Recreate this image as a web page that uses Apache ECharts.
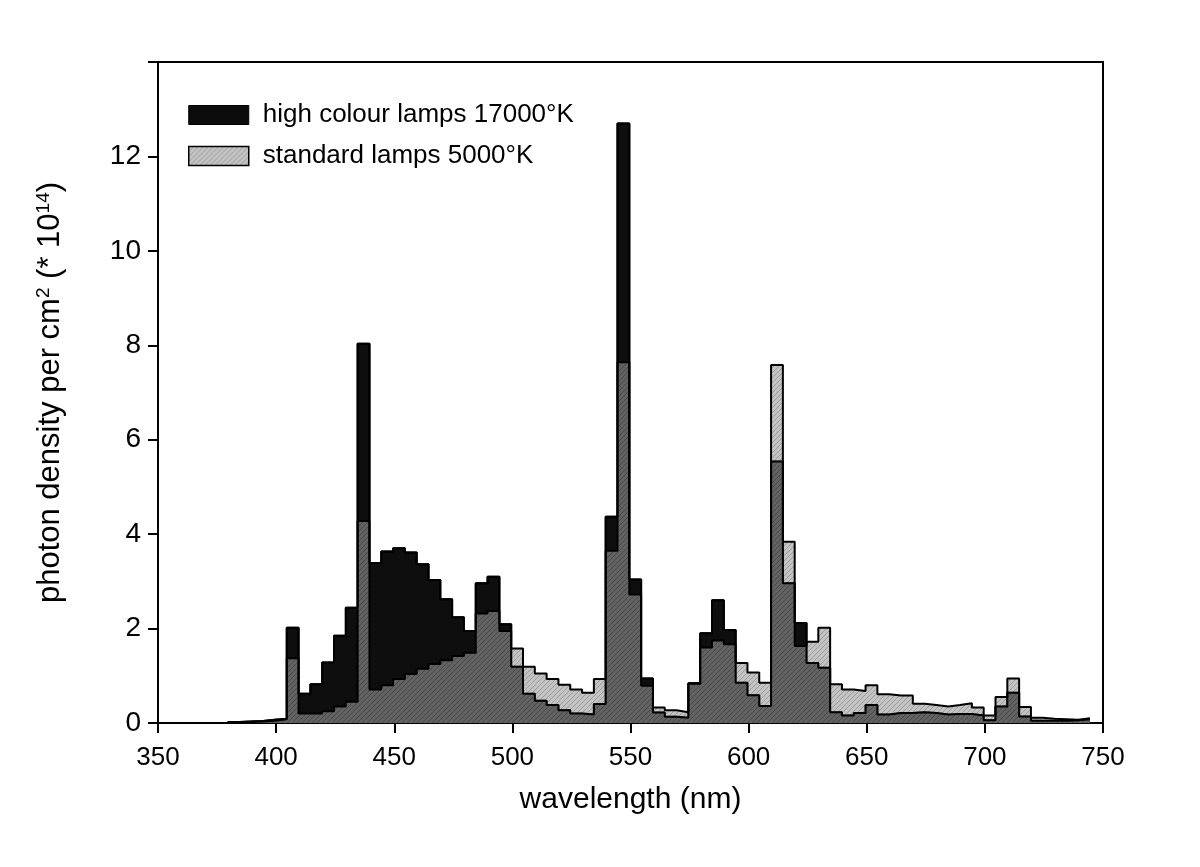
<!DOCTYPE html>
<html>
<head>
<meta charset="UTF-8">
<title>photon density</title>
<script src="https://cdn.jsdelivr.net/npm/echarts@6/dist/echarts.min.js"></script>
<style>
html, body { margin: 0; padding: 0; background: #fff; }
#main { width: 1200px; height: 867px; }
</style>
</head>
<body>
<div id="main"></div>
<script>
// bin centres (nm), bins are 5 nm wide
var wavelength = [382, 387, 392, 397, 402, 407, 412, 417, 422, 427, 432, 437, 442, 447, 452, 457, 462, 467, 472, 477,
  482, 487, 492, 497, 502, 507, 512, 517, 522, 527, 532, 537, 542, 547, 552, 557, 562, 567, 572, 577,
  582, 587, 592, 597, 602, 607, 612, 617, 622, 627, 632, 637, 642, 647, 652, 657, 662, 667, 672, 677,
  682, 687, 692, 697, 702, 707, 712, 717, 722, 727, 732, 737, 742];
var binWidth = 5;
// high colour lamps 17000°K
var highColour = [0.02, 0.03, 0.04, 0.07, 0.09, 2.02, 0.62, 0.82, 1.28, 1.85, 2.44, 8.03, 3.39, 3.63, 3.70, 3.61, 3.36, 3.03, 2.62, 2.24,
  1.95, 2.96, 3.10, 2.09, 1.19, 0.62, 0.47, 0.38, 0.27, 0.20, 0.18, 0.40, 4.37, 12.70, 3.04, 0.94, 0.22, 0.13, 0.11, 0.84,
  1.90, 2.60, 1.97, 0.85, 0.59, 0.36, 5.54, 2.96, 2.12, 1.27, 1.17, 0.23, 0.16, 0.21, 0.38, 0.18, 0.21, 0.21, 0.23, 0.21,
  0.18, 0.19, 0.19, 0.16, 0.06, 0.35, 0.64, 0.14, 0.05, 0.05, 0.05, 0.06, 0.08];
// standard lamps 5000°K
var standard = [0.01, 0.02, 0.03, 0.05, 0.08, 1.37, 0.20, 0.20, 0.25, 0.35, 0.45, 4.28, 0.71, 0.80, 0.93, 1.04, 1.15, 1.25, 1.33, 1.42,
  1.49, 2.32, 2.37, 1.95, 1.58, 1.19, 1.05, 0.93, 0.81, 0.71, 0.64, 0.93, 3.65, 7.64, 2.72, 0.79, 0.33, 0.27, 0.23, 0.83,
  1.60, 1.75, 1.67, 1.27, 1.07, 0.85, 7.58, 3.84, 1.63, 1.72, 2.02, 0.82, 0.71, 0.68, 0.80, 0.61, 0.58, 0.58, 0.41, 0.38,
  0.35, 0.38, 0.42, 0.33, 0.16, 0.55, 0.94, 0.34, 0.11, 0.09, 0.08, 0.07, 0.10];

var names = ['high colour lamps 17000°K', 'standard lamps 5000°K'];

// step data: each bin drawn from its left edge to the next one
function steps(vals) {
  var out = [];
  for (var i = 0; i < wavelength.length; i++) {
    out.push([wavelength[i] - binWidth / 2, vals[i]]);
  }
  out.push([wavelength[wavelength.length - 1] + binWidth / 2, vals[vals.length - 1]]);
  return out;
}

// diagonal hatch, half transparent so it turns dark over the black area
function hatch() {
  var n = 5;
  var c = document.createElement('canvas');
  c.width = n; c.height = n;
  var g = c.getContext('2d');
  g.fillStyle = 'rgba(155,155,155,0.6)';
  g.fillRect(0, 0, n, n);
  for (var i = 0; i < n; i++) {
    g.clearRect(i, n - 1 - i, 1, 1);
    g.fillStyle = 'rgba(105,105,105,0.66)';
    g.fillRect(i, n - 1 - i, 1, 1);
  }
  return c;
}
var pattern = { image: hatch(), repeat: 'repeat' };

var font = 'Liberation Sans, Arial, sans-serif';
var myChart = echarts.init(document.getElementById('main'));
var option = {
  animation: false,
  grid: {
    left: 158, right: 97, top: 62, bottom: 144,
    show: true, borderColor: '#000', borderWidth: 2, backgroundColor: 'transparent'
  },
  legend: {
    orient: 'vertical',
    left: 183, top: 97,
    itemWidth: 60, itemHeight: 19, itemGap: 15,
    icon: 'rect',
    textStyle: { fontSize: 26, color: '#000', fontFamily: font, padding: [0, 0, 0, 9] },
    data: [
      { name: names[0], itemStyle: { color: '#0c0c0c', borderColor: '#000', borderWidth: 1 } },
      { name: names[1], itemStyle: { color: pattern, borderColor: '#000', borderWidth: 1.5 } }
    ]
  },
  xAxis: {
    type: 'value', min: 350, max: 750, interval: 50,
    name: 'wavelength (nm)', nameLocation: 'middle', nameGap: 62,
    nameTextStyle: { fontSize: 30, color: '#000', fontFamily: font },
    axisLine: { onZero: false, lineStyle: { color: '#000', width: 2 } },
    axisTick: { length: 10, lineStyle: { color: '#000', width: 2 } },
    axisLabel: { fontSize: 26, color: '#000', fontFamily: font, margin: 22 },
    splitLine: { show: false }
  },
  yAxis: {
    type: 'value', min: 0, max: 14, interval: 2,
    name: 'photon density per cm{sup|2} (* 10{sup|14})', nameLocation: 'middle', nameGap: 91,
    nameTextStyle: {
      fontSize: 31, color: '#000', fontFamily: font,
      rich: { sup: { fontSize: 19, color: '#000', fontFamily: font, verticalAlign: 'top', padding: [0, 0, 14, 0] } }
    },
    axisLine: { lineStyle: { color: '#000', width: 2 } },
    axisTick: { length: 10, lineStyle: { color: '#000', width: 2 } },
    axisLabel: {
      fontSize: 28, color: '#000', fontFamily: font, margin: 17,
      formatter: function (v) { return v === 14 ? '' : v; }
    },
    splitLine: { show: false }
  },
  series: [
    {
      name: names[0], type: 'line', step: 'end', symbol: 'none', z: 2,
      data: steps(highColour),
      lineStyle: { color: '#000', width: 2 },
      itemStyle: { color: '#0c0c0c' },
      areaStyle: { color: '#0e0e0e', opacity: 1 }
    },
    {
      name: names[1], type: 'line', step: 'end', symbol: 'none', z: 3,
      data: steps(standard),
      lineStyle: { color: '#000', width: 2 },
      itemStyle: { color: '#aaa' },
      areaStyle: { color: pattern, opacity: 1 }
    },
    {
      // outline of the first series redrawn above the hatch
      name: 'outline', type: 'line', step: 'end', symbol: 'none', z: 4, silent: true,
      data: steps(highColour),
      lineStyle: { color: '#000', width: 2 }
    }
  ]
};
myChart.setOption(option);
</script>
</body>
</html>
